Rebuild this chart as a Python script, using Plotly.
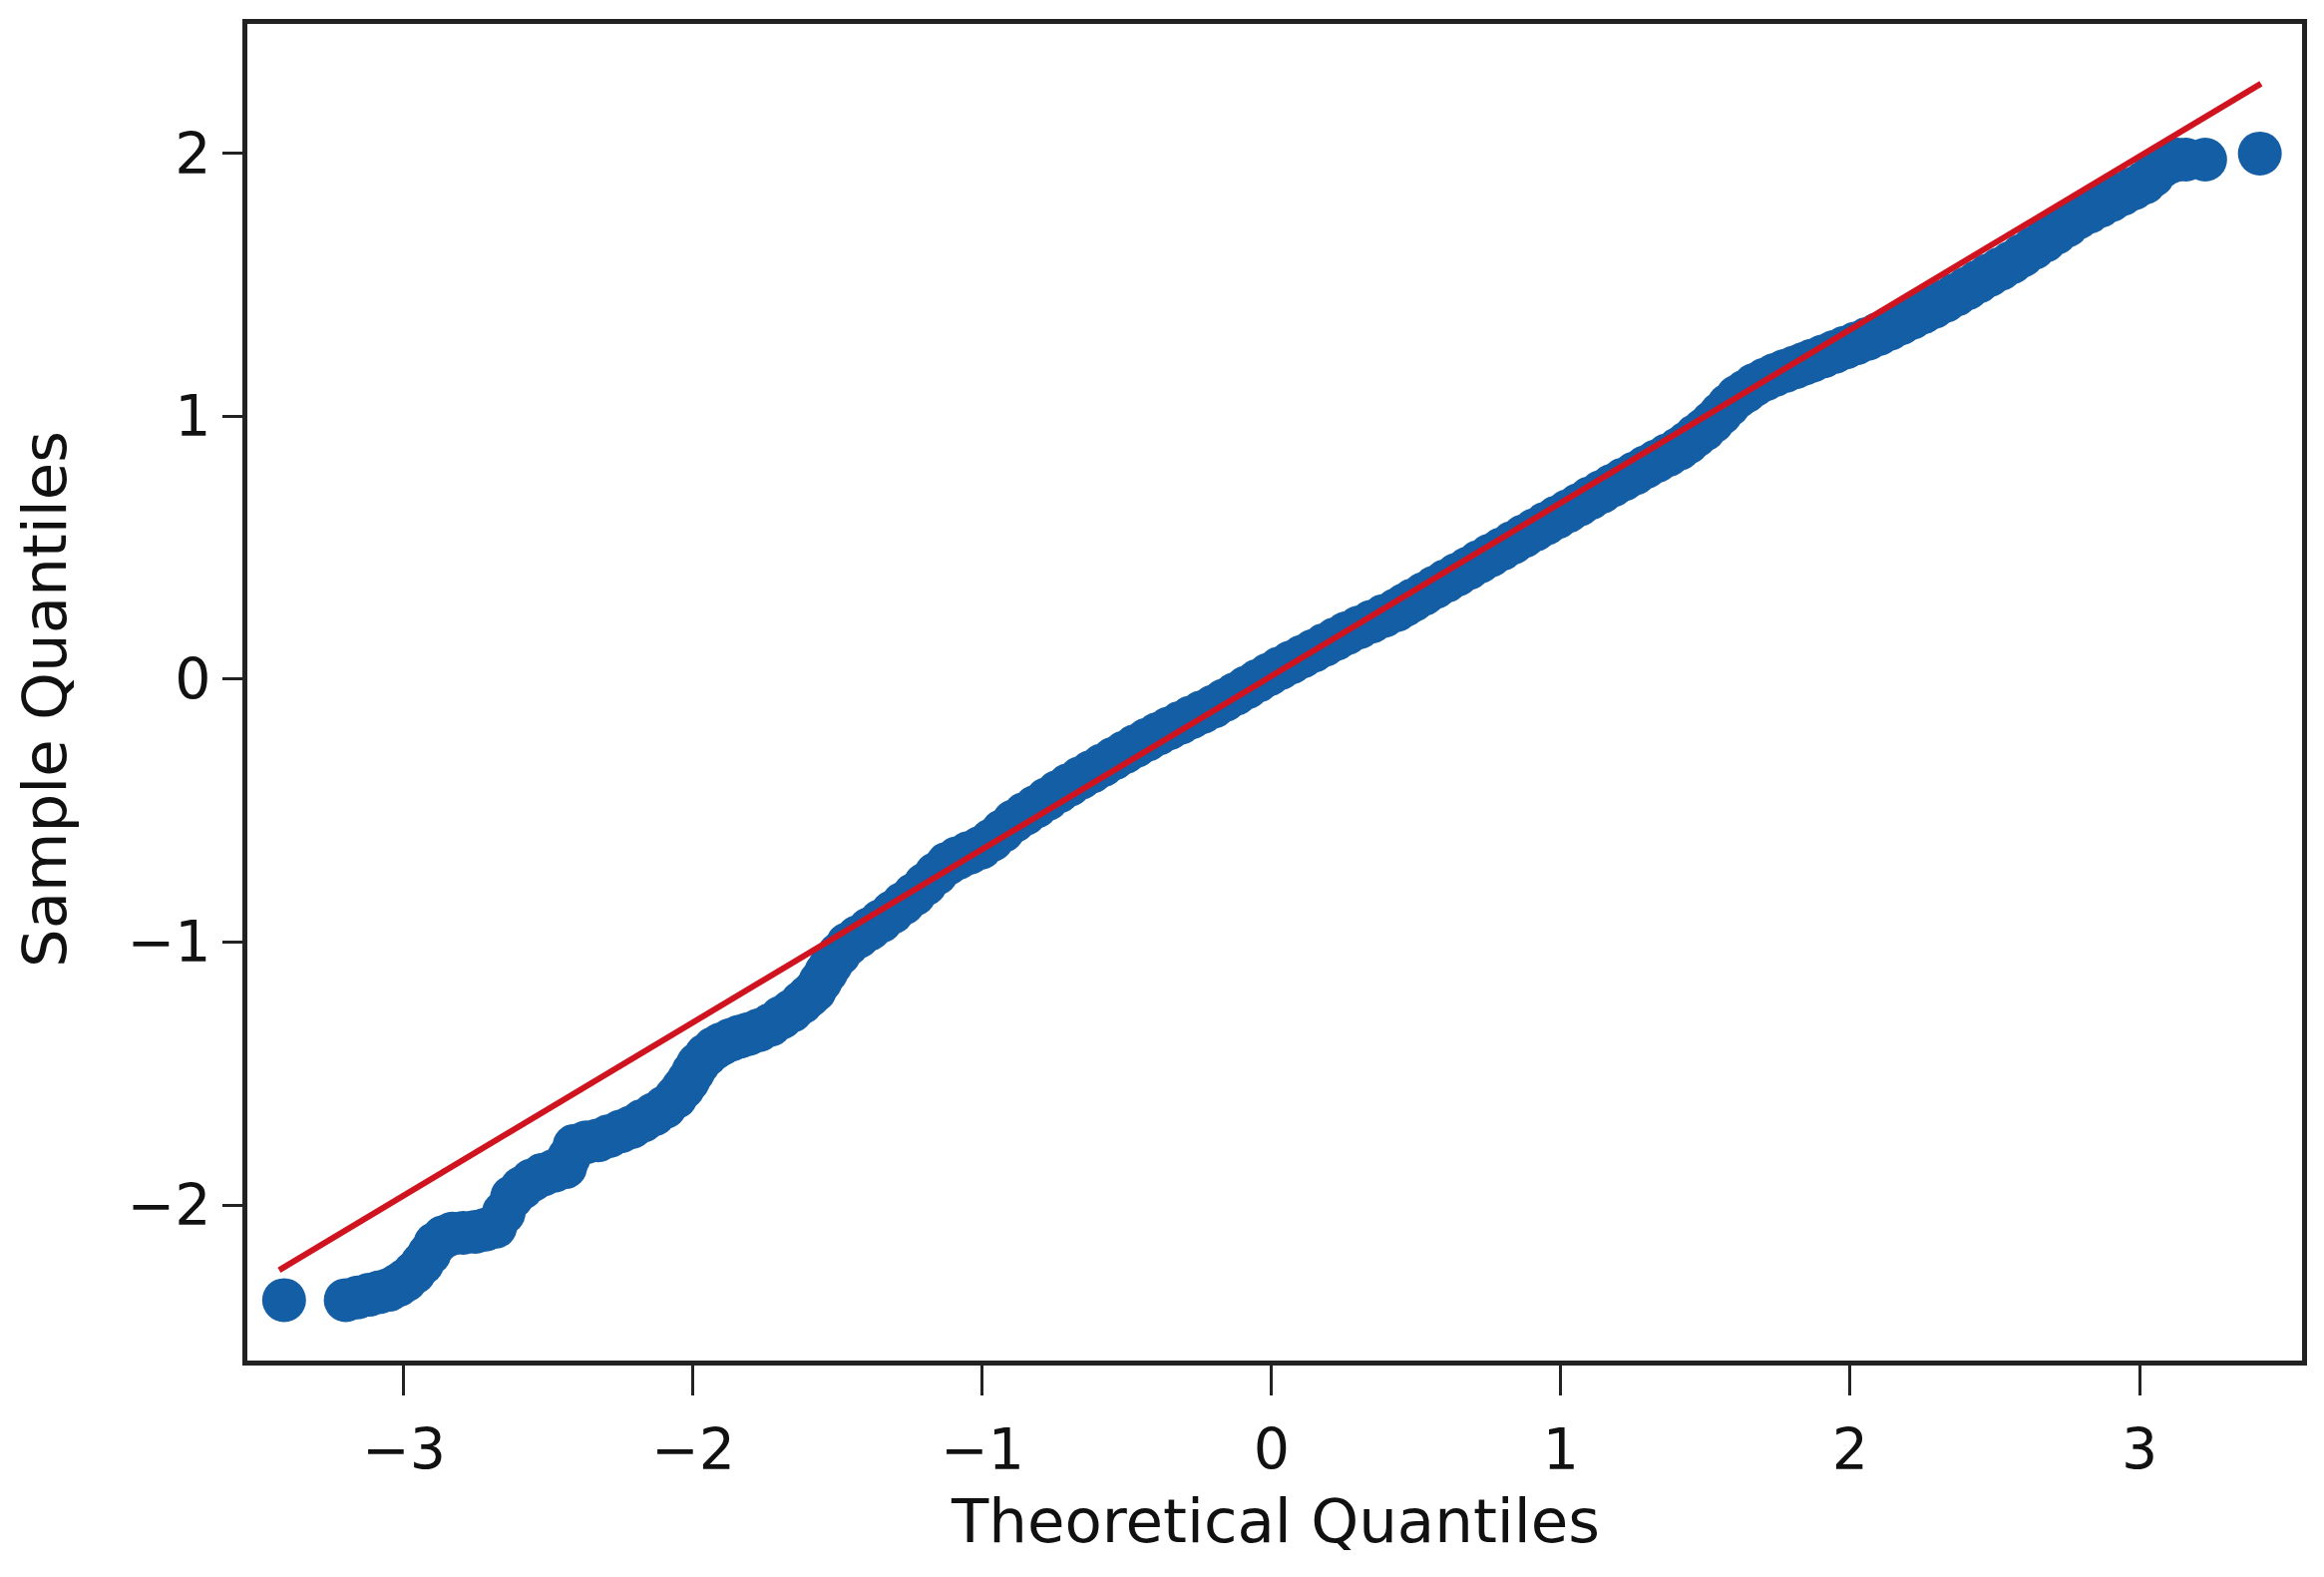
import plotly.graph_objects as go

# Theoretical quantiles (x) and sample quantiles (y)
theoretical = [
    -3.414, -3.201, -3.160, -3.121, -3.085, -3.052, -3.020, -2.994, -2.965, -2.937,
    -2.912, -2.891, -2.862, -2.833, -2.795, -2.753, -2.718, -2.684, -2.655, -2.626,
    -2.592, -2.557, -2.520, -2.480, -2.442, -2.430, -2.410, -2.370, -2.328, -2.290,
    -2.250, -2.213, -2.175, -2.135, -2.098, -2.060, -2.035, -2.017, -2.000, -1.983,
    -1.955, -1.928, -1.902, -1.870, -1.840, -1.810, -1.772, -1.733, -1.695, -1.660,
    -1.625, -1.600, -1.580, -1.560, -1.540, -1.523, -1.495, -1.466, -1.430, -1.390,
    -1.351, -1.312, -1.274, -1.236, -1.198, -1.160, -1.121, -1.085, -1.045, -1.006,
    -0.968, -0.930, -0.891, -0.853, -0.815, -0.776, -0.738, -0.700, -0.661, -0.623,
    -0.584, -0.546, -0.508, -0.470, -0.431, -0.393, -0.355, -0.316, -0.278, -0.240,
    -0.201, -0.163, -0.125, -0.086, -0.048, -0.010, 0.029, 0.067, 0.106, 0.144,
    0.182, 0.221, 0.259, 0.302, 0.345, 0.388, 0.431, 0.460, 0.489, 0.527,
    0.565, 0.603, 0.641, 0.680, 0.718, 0.756, 0.795, 0.833, 0.871, 0.910,
    0.948, 0.986, 1.025, 1.063, 1.101, 1.140, 1.178, 1.216, 1.255, 1.293,
    1.331, 1.370, 1.408, 1.438, 1.465, 1.495, 1.523, 1.552, 1.580, 1.610,
    1.638, 1.670, 1.705, 1.740, 1.775, 1.810, 1.840, 1.868, 1.906, 1.945,
    1.983, 2.021, 2.060, 2.098, 2.136, 2.175, 2.213, 2.251, 2.290, 2.328,
    2.366, 2.404, 2.442, 2.480, 2.519, 2.557, 2.595, 2.634, 2.672, 2.710,
    2.749, 2.787, 2.825, 2.864, 2.902, 2.940, 2.979, 3.017, 3.045, 3.075,
    3.105, 3.132, 3.160, 3.227, 3.416,
]
sample = [
    -2.362, -2.362, -2.352, -2.342, -2.332, -2.323, -2.305, -2.286, -2.258, -2.223,
    -2.185, -2.147, -2.122, -2.109, -2.106, -2.102, -2.094, -2.083, -2.030, -1.970,
    -1.935, -1.906, -1.885, -1.870, -1.856, -1.820, -1.775, -1.762, -1.754, -1.738,
    -1.720, -1.704, -1.680, -1.655, -1.628, -1.590, -1.555, -1.527, -1.495, -1.464,
    -1.430, -1.405, -1.388, -1.372, -1.360, -1.350, -1.335, -1.315, -1.287, -1.262,
    -1.230, -1.205, -1.185, -1.150, -1.115, -1.084, -1.045, -1.008, -0.980, -0.950,
    -0.920, -0.887, -0.853, -0.819, -0.780, -0.740, -0.702, -0.680, -0.660, -0.641,
    -0.612, -0.577, -0.540, -0.512, -0.485, -0.456, -0.428, -0.402, -0.376, -0.352,
    -0.327, -0.302, -0.278, -0.254, -0.230, -0.208, -0.187, -0.166, -0.145, -0.125,
    -0.104, -0.080, -0.056, -0.031, -0.006, 0.018, 0.042, 0.064, 0.086, 0.108,
    0.130, 0.153, 0.175, 0.197, 0.219, 0.241, 0.263, 0.282, 0.301, 0.325,
    0.350, 0.374, 0.398, 0.422, 0.447, 0.471, 0.495, 0.519, 0.544, 0.568,
    0.592, 0.616, 0.640, 0.664, 0.689, 0.713, 0.737, 0.760, 0.783, 0.807,
    0.830, 0.853, 0.877, 0.900, 0.925, 0.950, 0.978, 1.010, 1.043, 1.075,
    1.095, 1.120, 1.140, 1.158, 1.173, 1.187, 1.200, 1.212, 1.228, 1.245,
    1.262, 1.278, 1.295, 1.313, 1.333, 1.354, 1.375, 1.396, 1.417, 1.439,
    1.463, 1.487, 1.512, 1.537, 1.561, 1.585, 1.612, 1.640, 1.668, 1.697,
    1.726, 1.756, 1.778, 1.801, 1.823, 1.845, 1.867, 1.889, 1.915, 1.950,
    1.968, 1.977, 1.977, 1.977, 2.000,
]

# Reference (fitted) line end points
line_x = [-3.431, 3.420]
line_y = [-2.248, 2.266]

x_ticks = [-3, -2, -1, 0, 1, 2, 3]
y_ticks = [-2, -1, 0, 1, 2]
x_title = "Theoretical Quantiles"
y_title = "Sample Quantiles"

BLUE = "#135ea4"
RED = "#d0141f"
FONT = "DejaVu Sans"

fig = go.Figure()
fig.add_trace(go.Scatter(
    x=theoretical, y=sample, mode="markers",
    marker=dict(size=44, color=BLUE, line=dict(width=0)),
    showlegend=False, hoverinfo="skip",
))
fig.add_trace(go.Scatter(
    x=line_x, y=line_y, mode="lines",
    line=dict(color=RED, width=6),
    showlegend=False, hoverinfo="skip",
))

axis_common = dict(
    showgrid=False, zeroline=False, showline=True, mirror=True,
    linecolor="#222222", linewidth=5, ticks="outside", tickwidth=3,
    tickcolor="#222222", tickfont=dict(family=FONT, size=57, color="#111111"),
)

fig.update_layout(
    width=2330, height=1581,
    margin=dict(l=248, r=22, t=24, b=217, pad=0),
    paper_bgcolor="white", plot_bgcolor="white",
    font=dict(family=FONT, color="#111111"),
    xaxis=dict(
        range=[-3.541, 3.562], tickvals=x_ticks, ticklen=30,
        ticklabelstandoff=6,
        **axis_common,
    ),
    yaxis=dict(
        range=[-2.592, 2.493], tickvals=y_ticks, ticklen=20,
        **axis_common,
    ),
    annotations=[
        dict(text=x_title, xref="paper", yref="paper", x=0.5, y=0,
             xanchor="center", yanchor="middle", yshift=-160, showarrow=False,
             font=dict(family=FONT, size=61, color="#111111")),
        dict(text=y_title, xref="paper", yref="paper", x=0, y=0.5,
             xanchor="center", yanchor="middle", xshift=-204, yshift=-7,
             textangle=-90, showarrow=False,
             font=dict(family=FONT, size=61, color="#111111")),
    ],
)

fig.write_html("out.html", config={"displayModeBar": False},
               post_script="document.body.style.margin='0';")
